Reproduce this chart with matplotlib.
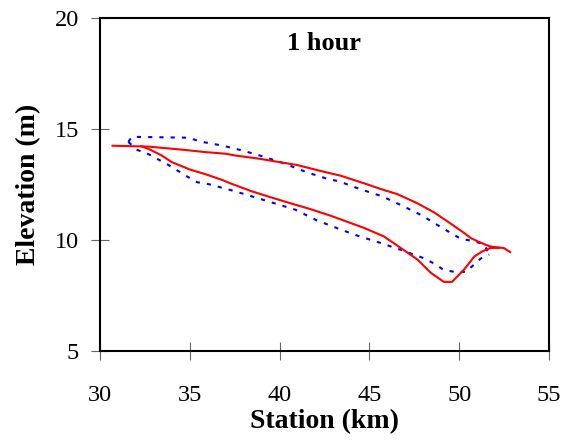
import matplotlib
matplotlib.use("Agg")
import matplotlib.pyplot as plt

plt.rcParams['font.family'] = ['Liberation Serif', 'DejaVu Serif']

# Red (solid) loop: upper and lower branches
red_upper_x = [30.7, 32.7, 34.6, 35.9, 37.0, 37.6, 38.75, 39.86, 40.98, 42.45, 43.4,
               44.7, 45.6, 46.56, 47.67, 48.6, 49.3, 50.28, 50.65, 51.02, 51.48, 51.76, 52.5, 52.84]
red_upper_y = [14.24, 14.2, 14.06, 13.95, 13.88, 13.79, 13.67, 13.52, 13.37, 13.07, 12.89,
               12.55, 12.3, 12.06, 11.65, 11.24, 10.86, 10.31, 10.08, 9.94, 9.78, 9.7, 9.63, 9.45]
red_lower_x = [32.3, 32.8, 33.44, 34.0, 35.0, 35.9, 36.8, 37.25, 38.37, 39.5, 40.6, 41.7,
               42.84, 44.7, 45.8, 46.74, 47.67, 48.42, 49.15, 49.6, 50.28, 50.84, 51.3, 51.76, 52.2]
red_lower_y = [14.22, 14.06, 13.8, 13.5, 13.17, 12.95, 12.7, 12.55, 12.21, 11.92, 11.65, 11.39,
               11.09, 10.54, 10.16, 9.64, 9.12, 8.52, 8.11, 8.11, 8.67, 9.25, 9.49, 9.64, 9.64]

# Blue (dotted) loop
blue_upper_x = [31.58, 31.77, 34.93, 35.58, 36.85, 38.0, 39.1, 40.23, 41.53, 42.65, 43.3,
                44.5, 45.72, 46.83, 47.95, 48.97, 50.09, 50.84, 51.4, 51.67]
blue_upper_y = [14.41, 14.64, 14.6, 14.43, 14.24, 14.01, 13.75, 13.45, 13.04, 12.75, 12.64,
                12.28, 11.96, 11.54, 11.09, 10.58, 10.05, 9.94, 9.79, 9.34]
blue_lower_x = [31.58, 32.05, 32.7, 33.8, 34.84, 35.4, 36.05, 37.25, 38.46, 39.67, 40.88,
                42.07, 43.2, 44.3, 45.6, 46.83, 47.95, 48.6, 49.1, 49.71, 50.37, 51.2, 51.67]
blue_lower_y = [14.41, 14.06, 13.86, 13.38, 12.86, 12.6, 12.51, 12.25, 11.96, 11.66, 11.36,
                10.88, 10.53, 10.2, 9.87, 9.53, 9.2, 8.94, 8.67, 8.56, 8.56, 9.16, 9.34]

x_ticks = [30, 35, 40, 45, 50, 55]
y_ticks = [5, 10, 15, 20]

fig = plt.figure(figsize=(5.74, 4.44), dpi=100)
ax = fig.add_axes([0.1742, 0.2095, 0.7822, 0.7505])

dash = (0, (2, 3.4))
ax.plot(blue_upper_x, blue_upper_y, color='#0000FF', lw=1.5, linestyle=dash)
ax.plot(blue_lower_x, blue_lower_y, color='#0000FF', lw=1.5, linestyle=dash)
ax.plot(red_upper_x, red_upper_y, color='#FF0000', lw=1.5)
ax.plot(red_lower_x, red_lower_y, color='#FF0000', lw=1.5)

ax.set_xlim(30, 55)
ax.set_ylim(5, 20)
ax.set_xticks(x_ticks)
ax.set_yticks(y_ticks)
ax.tick_params(axis='both', direction='inout', length=13, width=0.8, color='#666666',
               labelsize=17.5)
ax.tick_params(axis='x', pad=18)
ax.tick_params(axis='y', pad=8.5)
for s in ax.spines.values():
    s.set_linewidth(1.5)
    s.set_color('black')

ax.set_xlabel('Station (km)', fontsize=20, fontweight='bold', labelpad=2)
ax.set_ylabel('Elevation (m)', fontsize=20, fontweight='bold', labelpad=10)
ax.text(0.5, 0.958, '1 hour', transform=ax.transAxes, ha='center', va='top',
        fontsize=19, fontweight='bold')

fig.savefig('out.png', dpi=100)
